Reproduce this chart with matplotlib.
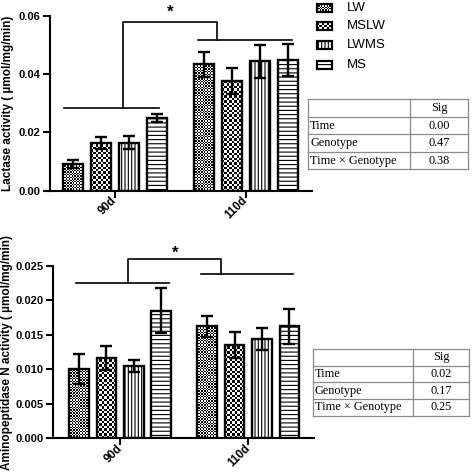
import numpy as np
import matplotlib
matplotlib.use('Agg')
import matplotlib.pyplot as plt
from matplotlib.patches import Rectangle

plt.rcParams['font.family'] = ['Liberation Sans', 'DejaVu Sans']

# ---------------- data ----------------
genotypes = ['LW', 'MSLW', 'LWMS', 'MS']
ages = ['90d', '110d']

lactase_90 = [0.0091, 0.0165, 0.0165, 0.0249]
lactase_90_err = [0.0013, 0.0021, 0.0023, 0.0014]
lactase_110 = [0.0435, 0.0377, 0.0444, 0.0449]
lactase_110_err = [0.0043, 0.0046, 0.0056, 0.0054]

apn_90 = [0.0100, 0.0116, 0.0105, 0.0185]
apn_90_err = [0.0022, 0.0017, 0.0009, 0.0032]
apn_110 = [0.0162, 0.0135, 0.0144, 0.0162]
apn_110_err = [0.0015, 0.0019, 0.0016, 0.0025]

lactase_yticks = [0.00, 0.02, 0.04, 0.06]
apn_yticks = [0.000, 0.005, 0.010, 0.015, 0.020, 0.025]

table_rows = ['Time', 'Genotype', 'Time \u00d7 Genotype']
table_header = 'Sig'
lactase_sig = ['0.00', '0.47', '0.38']
apn_sig = ['0.02', '0.17', '0.25']

# ---------------- layout ----------------
W, H = 472, 475
fig = plt.figure(figsize=(W / 100, H / 100), dpi=100)


def px_axes(x0, y0, x1, y1):
    return fig.add_axes([x0 / W, 1 - y1 / H, (x1 - x0) / W, (y1 - y0) / H])


GROUP_OFFSET = 4.68
BAR_W = 0.71
hatches = {'LW': None, 'MSLW': None, 'LWMS': '|||||', 'MS': '----'}
checker_cell = {'LW': 1.4, 'MSLW': 2.4}

plt.rcParams['hatch.linewidth'] = 0.8


def add_checker(ax, patch, cell, z):
    bb = patch.get_window_extent()
    nx = max(1, int(round(bb.width / cell)))
    ny = max(1, int(round(bb.height / cell)))
    arr = np.add.outer(np.arange(ny), np.arange(nx)) % 2
    x0, y0 = patch.get_x(), patch.get_y()
    im = ax.imshow(arr, extent=(x0, x0 + patch.get_width(), y0, y0 + patch.get_height()),
                   cmap='gray', interpolation='nearest', aspect='auto', zorder=z, origin='lower')
    im.set_clip_path(patch)


def panel(ax, v90, e90, v110, e110, xlim, ylim, yticks, fmt, ylabel, ylabel_x,
          brackets, star):
    ax.set_xlim(*xlim)
    ax.set_ylim(*ylim)
    offs = [0.0, GROUP_OFFSET]
    for vals, errs, off in zip([v90, v110], [e90, e110], offs):
        for i, g in enumerate(genotypes):
            x = off + i
            b = ax.bar([x], [vals[i]], BAR_W, color='white', edgecolor='black',
                       linewidth=0, hatch=hatches[g], zorder=2)
            if g in checker_cell:
                add_checker(ax, b.patches[0], checker_cell[g], 2.5)
        xs = off + np.arange(len(genotypes))
        ax.bar(xs, vals, BAR_W, fill=False, edgecolor='black', linewidth=1.7, zorder=3)
        ax.errorbar(xs, vals, yerr=errs, fmt='none', ecolor='black', elinewidth=1.7,
                    capsize=4.5, capthick=1.7, zorder=4)
    ax.set_xlim(*xlim)
    ax.set_ylim(*ylim)
    for s in ['top', 'right']:
        ax.spines[s].set_visible(False)
    for s in ['left', 'bottom']:
        ax.spines[s].set_linewidth(1.5)
    ax.set_yticks(yticks)
    ax.set_yticklabels([fmt.format(t) for t in yticks], fontsize=8, fontweight='bold')
    ax.set_xticks([1.5, GROUP_OFFSET + 1.5])
    ax.set_xticklabels(ages, rotation=45, ha='right', va='center', rotation_mode='anchor',
                       fontsize=8.3, fontweight='bold')
    ax.tick_params(axis='both', direction='out', length=5, width=1.5, pad=2)
    ax.tick_params(axis='x', pad=1)
    ax.set_ylabel(ylabel, fontsize=8.5, fontweight='bold')
    ax.yaxis.label.set_va('center')
    ax.yaxis.set_label_coords(ylabel_x, 0.5)
    # significance brackets
    (l1, r1, y1), (l2, r2, y2), (bl, br, by) = brackets
    kw = dict(color='black', lw=1.2, clip_on=False, zorder=5)
    ax.plot([l1, r1], [y1, y1], **kw)
    ax.plot([l2, r2], [y2, y2], **kw)
    ax.plot([bl, bl, br, br], [y1, by, by, y2], **kw)
    ax.text(star[0], star[1], '*', ha='center', va='center', fontsize=12,
            fontweight='bold', clip_on=False)


ax1 = px_axes(50, 16, 311.7, 190.7)
panel(ax1, lactase_90, lactase_90_err, lactase_110, lactase_110_err,
      (-0.81, 8.54), (0, 0.06), lactase_yticks, '{:.2f}',
      'Lactase activity ( \u00b5mol/mg/min)', -0.162,
      [(-0.3, 3.09, 0.0285), (4.49, 7.82, 0.0519), (1.81, 5.14, 0.0578)],
      (3.47, 0.0612))

ax2 = px_axes(53.3, 265.7, 314, 438.3)
panel(ax2, apn_90, apn_90_err, apn_110, apn_110_err,
      (-0.94, 8.58), (0, 0.025), apn_yticks, '{:.3f}',
      'Aminopeptidase N activity ( \u00b5mol/mg/min)', -0.178,
      [(-0.11, 3.29, 0.02245), (4.46, 7.82, 0.0238), (1.80, 5.17, 0.02595)],
      (3.50, 0.0268))

# ---------------- legend ----------------
lg = px_axes(300, 0, 472, 80)
lg.set_xlim(300, 472)
lg.set_ylim(80, 0)
lg.axis('off')
legend_rows_y = [8.0, 26.3, 45.3, 65.0]
for g, yc in zip(genotypes, legend_rows_y):
    r = Rectangle((317, yc - 4), 15, 8, facecolor='white', edgecolor='black',
                  linewidth=0, hatch=hatches[g], zorder=2)
    lg.add_patch(r)
    if g in checker_cell:
        add_checker(lg, r, checker_cell[g], 2.5)
    lg.add_patch(Rectangle((317, yc - 4), 15, 8, fill=False, edgecolor='black',
                           linewidth=1.6, zorder=3))
    lg.text(346.5, yc, g, ha='left', va='center', fontsize=9.5)
lg.set_xlim(300, 472)
lg.set_ylim(80, 0)


# ---------------- tables ----------------
def draw_table(x0, y0, x1, y1, xsplit, values):
    ta = px_axes(x0, y0, x1 + 1, y1 + 1)
    ta.set_xlim(x0, x1 + 1)
    ta.set_ylim(y1 + 1, y0)
    ta.axis('off')
    n = len(table_rows) + 1
    rh = (y1 - y0) / n
    kw = dict(color='#8a8a8a', lw=0.9, clip_on=False)
    for k in range(n + 1):
        ta.plot([x0, x1], [y0 + k * rh] * 2, **kw)
    for xx in (x0, xsplit, x1):
        ta.plot([xx, xx], [y0, y1], **kw)
    tf = dict(family=['Liberation Serif', 'DejaVu Serif'], fontsize=8.8, va='center')
    ta.text((xsplit + x1) / 2, y0 + rh / 2, table_header, ha='center', **tf)
    for k, (lab, val) in enumerate(zip(table_rows, values)):
        yc = y0 + (k + 1.5) * rh
        ta.text(x0 + 2, yc, lab, ha='left', **tf)
        ta.text((xsplit + x1) / 2, yc, val, ha='center', **tf)


draw_table(308.3, 99.3, 468, 169.3, 410, lactase_sig)
draw_table(312.7, 349, 469.3, 415.7, 413.3, apn_sig)

fig.savefig('out.png', dpi=100)
